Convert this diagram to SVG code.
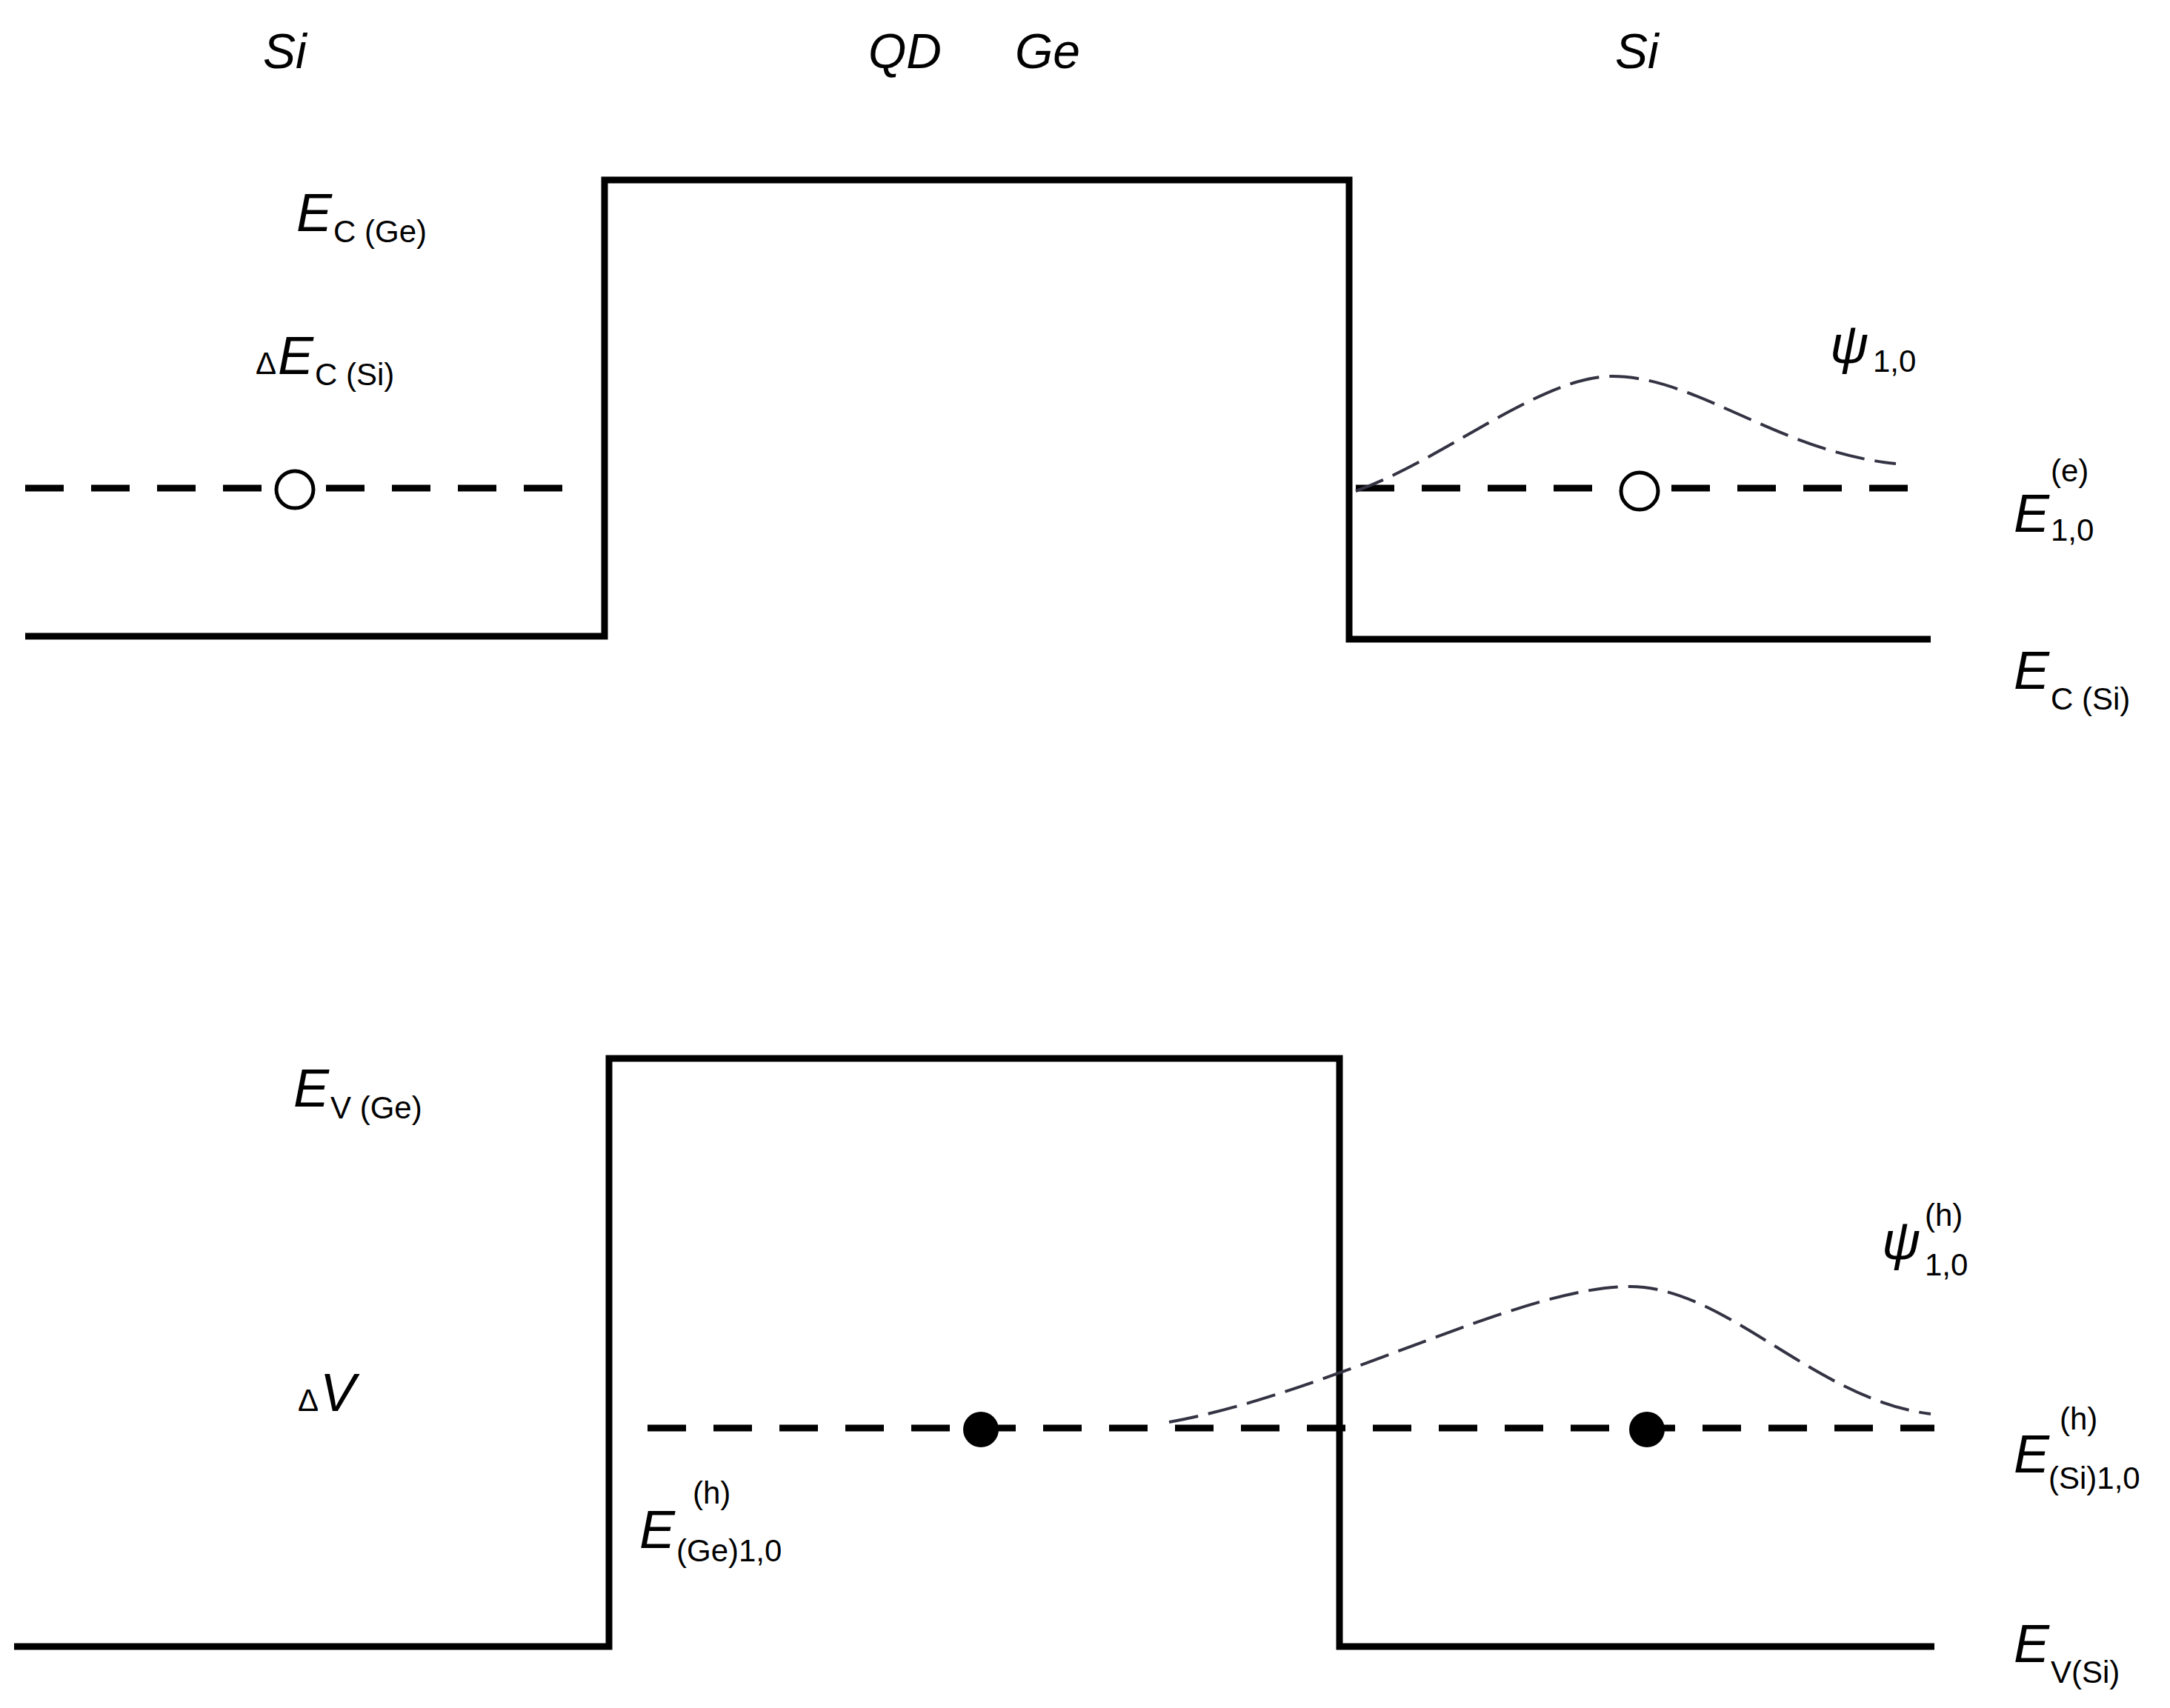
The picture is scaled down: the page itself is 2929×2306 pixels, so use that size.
<svg xmlns="http://www.w3.org/2000/svg" width="2929" height="2306" viewBox="0 0 2929 2306">
<style>
.s{fill:none;stroke:#000;stroke-width:9}
.d{fill:none;stroke:#000;stroke-width:9;stroke-dasharray:52 37}
.w{fill:none;stroke:#334;stroke-width:4;stroke-dasharray:40 14}
text{font-family:"Liberation Sans",Arial,sans-serif;fill:#000}
.big{font-size:72px;font-style:italic}
.sub{font-size:42px}
.hd{font-size:66px;font-style:italic}
</style>
<rect width="2929" height="2306" fill="#fff"/>
<g id="labels-top">
<text class="hd" x="355" y="92">Si</text>
<text class="hd" x="1172" y="92">QD</text>
<text class="hd" x="1370" y="92">Ge</text>
<text class="hd" x="2180" y="92">Si</text>
</g>
<g id="connectors">
<path class="s" d="M34 859H816V243H1821V863H2606"/>
<path class="d" d="M34 659H355M440 659H775M1830 659H2170M2256 659H2606"/>
<path class="w" d="M1830 663C1950 620 2080 508 2176 508C2290 508 2400 610 2559 626"/>
<path class="s" d="M19 2223H822V1429H1808V2223H2611"/>
<path class="d" d="M874 1928H2611"/>
<path class="w" d="M1578 1920C1800 1880 2050 1737 2200 1737C2330 1737 2450 1890 2606 1909"/>
</g>
<g id="states">
<circle cx="398" cy="661" r="25" fill="#fff" stroke="#000" stroke-width="5"/>
<circle cx="2213" cy="663" r="25" fill="#fff" stroke="#000" stroke-width="5"/>
<circle cx="1324" cy="1930" r="24" fill="#000"/>
<circle cx="2223" cy="1930" r="24" fill="#000"/>
</g>
<g id="label-ECGe"><text class="big" x="400" y="312">E</text><text class="sub" x="450" y="327">C (Ge)</text></g>
<g id="label-dECSi"><text class="sub" x="345" y="505">Δ</text><text class="big" x="375" y="505">E</text><text class="sub" x="425" y="520">C (Si)</text></g>
<g id="label-psi"><text class="big" x="2470" y="490">ψ</text><text class="sub" x="2528" y="502">1,0</text></g>
<g id="label-E10e"><text class="big" x="2718" y="718">E</text><text class="sub" x="2768" y="650">(e)</text><text class="sub" x="2768" y="730">1,0</text></g>
<g id="label-ECSi"><text class="big" x="2718" y="930">E</text><text class="sub" x="2768" y="958">C (Si)</text></g>
<g id="label-EVGe"><text class="big" x="396" y="1494">E</text><text class="sub" x="446" y="1510">V (Ge)</text></g>
<g id="label-dV"><text class="sub" x="402" y="1905">Δ</text><text class="big" x="432" y="1905">V</text></g>
<g id="label-EGe"><text class="big" x="863" y="2090">E</text><text class="sub" x="935" y="2030">(h)</text><text class="sub" x="913" y="2108">(Ge)1,0</text></g>
<g id="label-psih"><text class="big" x="2540" y="1700">ψ</text><text class="sub" x="2598" y="1655">(h)</text><text class="sub" x="2598" y="1722">1,0</text></g>
<g id="label-ESi"><text class="big" x="2718" y="1988">E</text><text class="sub" x="2780" y="1930">(h)</text><text class="sub" x="2765" y="2010">(Si)1,0</text></g>
<g id="label-EVSi"><text class="big" x="2718" y="2244">E</text><text class="sub" x="2768" y="2272">V(Si)</text></g>
</svg>
